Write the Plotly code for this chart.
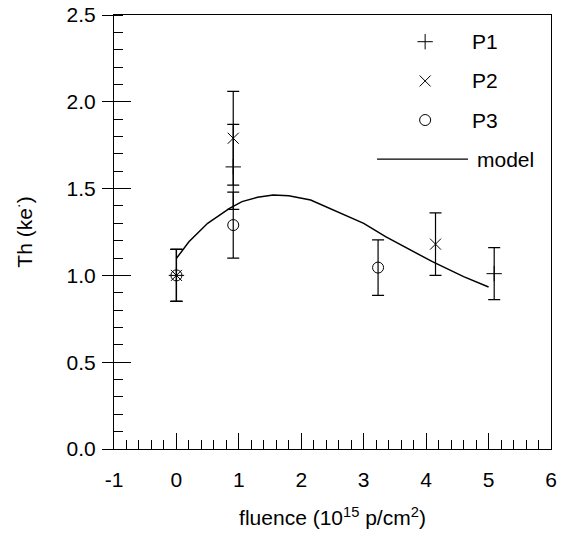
import plotly.graph_objects as go

FONT = "Arial, Liberation Sans, sans-serif"

# ---- data ----
p1_x = [0.0, 0.91, 5.09]
p1_y = [1.0, 1.625, 1.01]
p1_err = [0.15, 0.245, 0.15]

p2_x = [0.0, 0.91, 4.15]
p2_y = [1.0, 1.79, 1.18]
p2_err = [0.15, 0.27, 0.18]

p3_x = [0.0, 0.91, 3.23]
p3_y = [1.0, 1.29, 1.045]
p3_err = [0.15, 0.19, 0.16]

model_x = [0.0, 0.2, 0.5, 0.85, 1.05, 1.3, 1.55, 1.8, 2.15, 2.5, 3.0, 3.35, 3.75, 4.1, 4.6, 5.0]
model_y = [1.098, 1.194, 1.30, 1.386, 1.425, 1.45, 1.463, 1.459, 1.434, 1.377, 1.30, 1.223, 1.146, 1.079, 0.993, 0.933]

x_tickvals = [-1, 0, 1, 2, 3, 4, 5, 6]
x_ticktext = ["-1", "0", "1", "2", "3", "4", "5", "6"]
y_tickvals = [0.0, 0.5, 1.0, 1.5, 2.0, 2.5]
y_ticktext = ["0.0", "0.5", "1.0", "1.5", "2.0", "2.5"]

legend_names = ["P1", "P2", "P3", "model"]
legend_rows = [0.9385, 0.848, 0.758, 0.668]

fig = go.Figure()

def err(v):
    return dict(type="data", array=v, visible=True, color="black", thickness=1.2, width=6)

fig.add_trace(go.Scatter(x=model_x, y=model_y, mode="lines", name="model",
                         line=dict(color="black", width=1.5), showlegend=False))
fig.add_trace(go.Scatter(x=p1_x, y=p1_y, mode="markers", name="P1", error_y=err(p1_err),
                         marker=dict(symbol="cross-thin-open", size=11, color="black",
                                     line=dict(color="black", width=1)), showlegend=False))
fig.add_trace(go.Scatter(x=p2_x, y=p2_y, mode="markers", name="P2", error_y=err(p2_err),
                         marker=dict(symbol="x-thin-open", size=11, color="black",
                                     line=dict(color="black", width=1)), showlegend=False))
fig.add_trace(go.Scatter(x=p3_x, y=p3_y, mode="markers", name="P3", error_y=err(p3_err),
                         marker=dict(symbol="circle-open", size=11, color="black",
                                     line=dict(color="black", width=1)), showlegend=False))

# dummy for tick overlay axis
fig.add_trace(go.Scatter(x=[None], y=[None], yaxis="y2", showlegend=False, hoverinfo="skip"))

# manual legend on hidden overlay axes
sym = ["cross-thin-open", "x-thin-open", "circle-open"]
for i in range(3):
    fig.add_trace(go.Scatter(x=[0.712], y=[legend_rows[i]], xaxis="x2", yaxis="y3", mode="markers",
                             marker=dict(symbol=sym[i], size=11, color="black",
                                         line=dict(color="black", width=1)),
                             showlegend=False, hoverinfo="skip"))
fig.add_trace(go.Scatter(x=[0.602, 0.81], y=[legend_rows[3]] * 2, xaxis="x2", yaxis="y3", mode="lines",
                         line=dict(color="black", width=1.2), showlegend=False, hoverinfo="skip"))

for i, name in enumerate(legend_names):
    fig.add_annotation(x=0.815 if i < 3 else 0.826, y=legend_rows[i], xref="paper", yref="paper",
                       text=name, showarrow=False, xanchor="left", yanchor="middle",
                       font=dict(family=FONT, size=21, color="black"))

fig.update_layout(
    width=563, height=552,
    margin=dict(l=114, r=12, t=15, b=103, autoexpand=False),
    paper_bgcolor="white", plot_bgcolor="white",
    font=dict(family=FONT, size=21, color="black"),
    showlegend=False,
    xaxis=dict(range=[-1, 6], tickmode="array", tickvals=x_tickvals, ticktext=x_ticktext,
               showgrid=False, zeroline=False, automargin=False, ticklabeloverflow="allow",
               showline=True, linecolor="black", linewidth=1, mirror=True,
               ticks="inside", ticklen=16, tickcolor="black",
               minor=dict(ticks="inside", ticklen=9, dtick=0.2, tick0=0, tickcolor="black", showgrid=False),
               ticklabelstandoff=12,
               title=dict(text="fluence (10<sup>15</sup> p/cm<sup>2</sup>)", standoff=20,
                          font=dict(family=FONT, size=21, color="black"))),
    yaxis=dict(range=[0, 2.5], tickmode="array", tickvals=y_tickvals, ticktext=y_ticktext,
               showgrid=False, zeroline=False, automargin=False, ticklabeloverflow="allow",
               showline=True, linecolor="black", linewidth=1, mirror=True,
               ticks="outside", ticklen=11, tickcolor="black",
               minor=dict(ticks="inside", ticklen=9, dtick=0.1, tick0=0, tickcolor="black", showgrid=False),
               ticklabelstandoff=2,
               title=dict(text="Th (ke<sup>·</sup>)", standoff=28,
                          font=dict(family=FONT, size=21, color="black"))),
    yaxis2=dict(range=[0, 2.5], dtick=0.5, tick0=0, overlaying="y", anchor="x", side="left",
                showgrid=False, zeroline=False, showline=False, showticklabels=False, automargin=False,
                ticks="inside", ticklen=17, tickcolor="black"),
    xaxis2=dict(range=[0, 1], overlaying="x", anchor="y3", visible=False),
    yaxis3=dict(range=[0, 1], overlaying="y", anchor="x2", visible=False),
)

fig.write_html("out.html", config={"displayModeBar": False},
               post_script="document.body.style.margin='0';")
